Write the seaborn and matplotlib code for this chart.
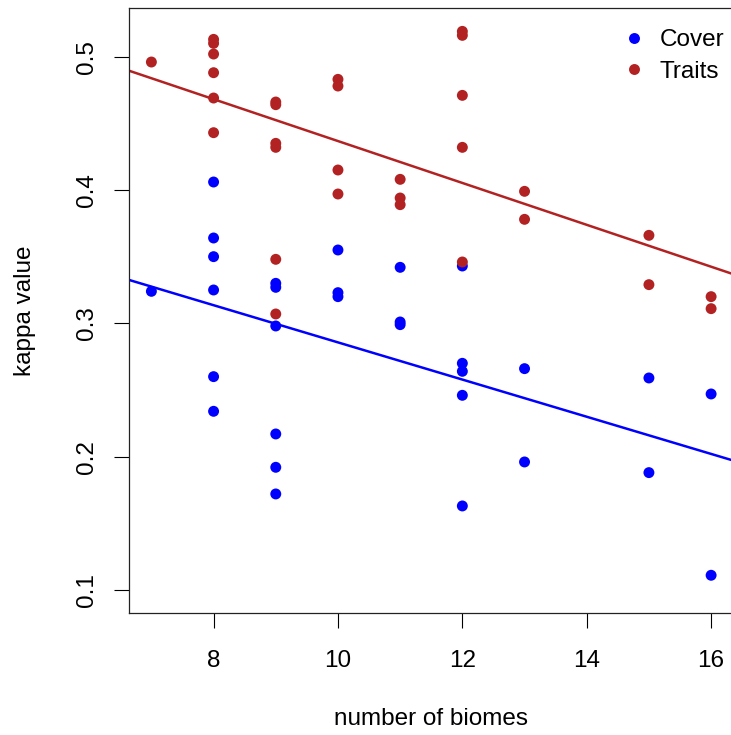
import matplotlib
matplotlib.use("Agg")
import matplotlib.pyplot as plt
import pandas as pd
import seaborn as sns

# kappa values, grouped by number of biomes
cover_biomes = [7, 8, 8, 8, 8, 8, 8, 9, 9, 9, 9, 9, 9, 10, 10, 10, 11, 11, 11,
                12, 12, 12, 12, 12, 13, 13, 15, 15, 16, 16]
cover_kappa = [0.324, 0.406, 0.364, 0.350, 0.325, 0.260, 0.234,
               0.330, 0.327, 0.298, 0.217, 0.192, 0.172,
               0.355, 0.323, 0.320, 0.342, 0.301, 0.299,
               0.343, 0.270, 0.264, 0.246, 0.163, 0.266, 0.196, 0.259, 0.188, 0.247, 0.111]

traits_biomes = [7, 8, 8, 8, 8, 8, 8, 9, 9, 9, 9, 9, 9, 10, 10, 10, 10, 11, 11, 11,
                 12, 12, 12, 12, 12, 13, 13, 15, 15, 16, 16]
traits_kappa = [0.496, 0.513, 0.510, 0.502, 0.488, 0.469, 0.443,
                0.466, 0.464, 0.435, 0.432, 0.348, 0.307,
                0.483, 0.478, 0.415, 0.397, 0.408, 0.394, 0.389,
                0.519, 0.516, 0.471, 0.432, 0.346, 0.399, 0.378, 0.366, 0.329, 0.320, 0.311]

groups = ["Cover", "Traits"]
colors = {"Cover": "#0000FF", "Traits": "#B22222"}


def main() -> None:
    sns.set_style("ticks")
    plt.rcParams["font.family"] = ["Liberation Sans", "DejaVu Sans"]
    plt.rcParams["text.color"] = "black"
    plt.rcParams["axes.labelcolor"] = "black"

    df = pd.concat([
        pd.DataFrame({"biomes": cover_biomes, "kappa": cover_kappa, "type": "Cover"}),
        pd.DataFrame({"biomes": traits_biomes, "kappa": traits_kappa, "type": "Traits"}),
    ], ignore_index=True)

    fig = plt.figure(figsize=(7.31, 7.35), dpi=100)
    ax = fig.add_axes([129 / 731, 1 - 613 / 735, 604.5 / 731, 605.5 / 735])
    ax.set_xlim(6.64, 16.36)
    ax.set_ylim(0.0827, 0.5369)

    sns.scatterplot(data=df, x="biomes", y="kappa", hue="type", hue_order=groups,
                    palette=colors, s=62, linewidth=0, ax=ax, zorder=3)
    for g in groups:
        sns.regplot(data=df[df["type"] == g], x="biomes", y="kappa", ci=None,
                    truncate=False, scatter=False, color=colors[g],
                    line_kws={"lw": 1.8}, ax=ax)

    ax.set_xlim(6.64, 16.36)
    ax.set_ylim(0.0827, 0.5369)
    ax.set_xticks([8, 10, 12, 14, 16])
    ax.set_yticks([0.1, 0.2, 0.3, 0.4, 0.5])
    ax.set_yticklabels(["0.1", "0.2", "0.3", "0.4", "0.5"], rotation=90, va="center")
    ax.tick_params(labelsize=17.5, length=11, width=0.8, colors="black")
    ax.tick_params(axis="x", pad=15.5)
    ax.tick_params(axis="y", pad=11)
    for sp in ax.spines.values():
        sp.set_linewidth(0.9)
        sp.set_color("#222222")

    ax.set_xlabel("number of biomes", fontsize=17.5, labelpad=26)
    ax.set_ylabel("kappa value", fontsize=17.5, labelpad=29)

    handles, labels = ax.get_legend_handles_labels()
    ax.legend(handles=handles, labels=labels, loc="upper right", frameon=False,
              fontsize=17.5, handletextpad=0.05, labelspacing=0.4, markerscale=1.0,
              bbox_to_anchor=(724 / 731, 1 - 29 / 735), bbox_transform=fig.transFigure,
              borderaxespad=0, borderpad=0)

    fig.savefig("out.png", dpi=100)
    plt.close(fig)


if __name__ == "__main__":
    main()
